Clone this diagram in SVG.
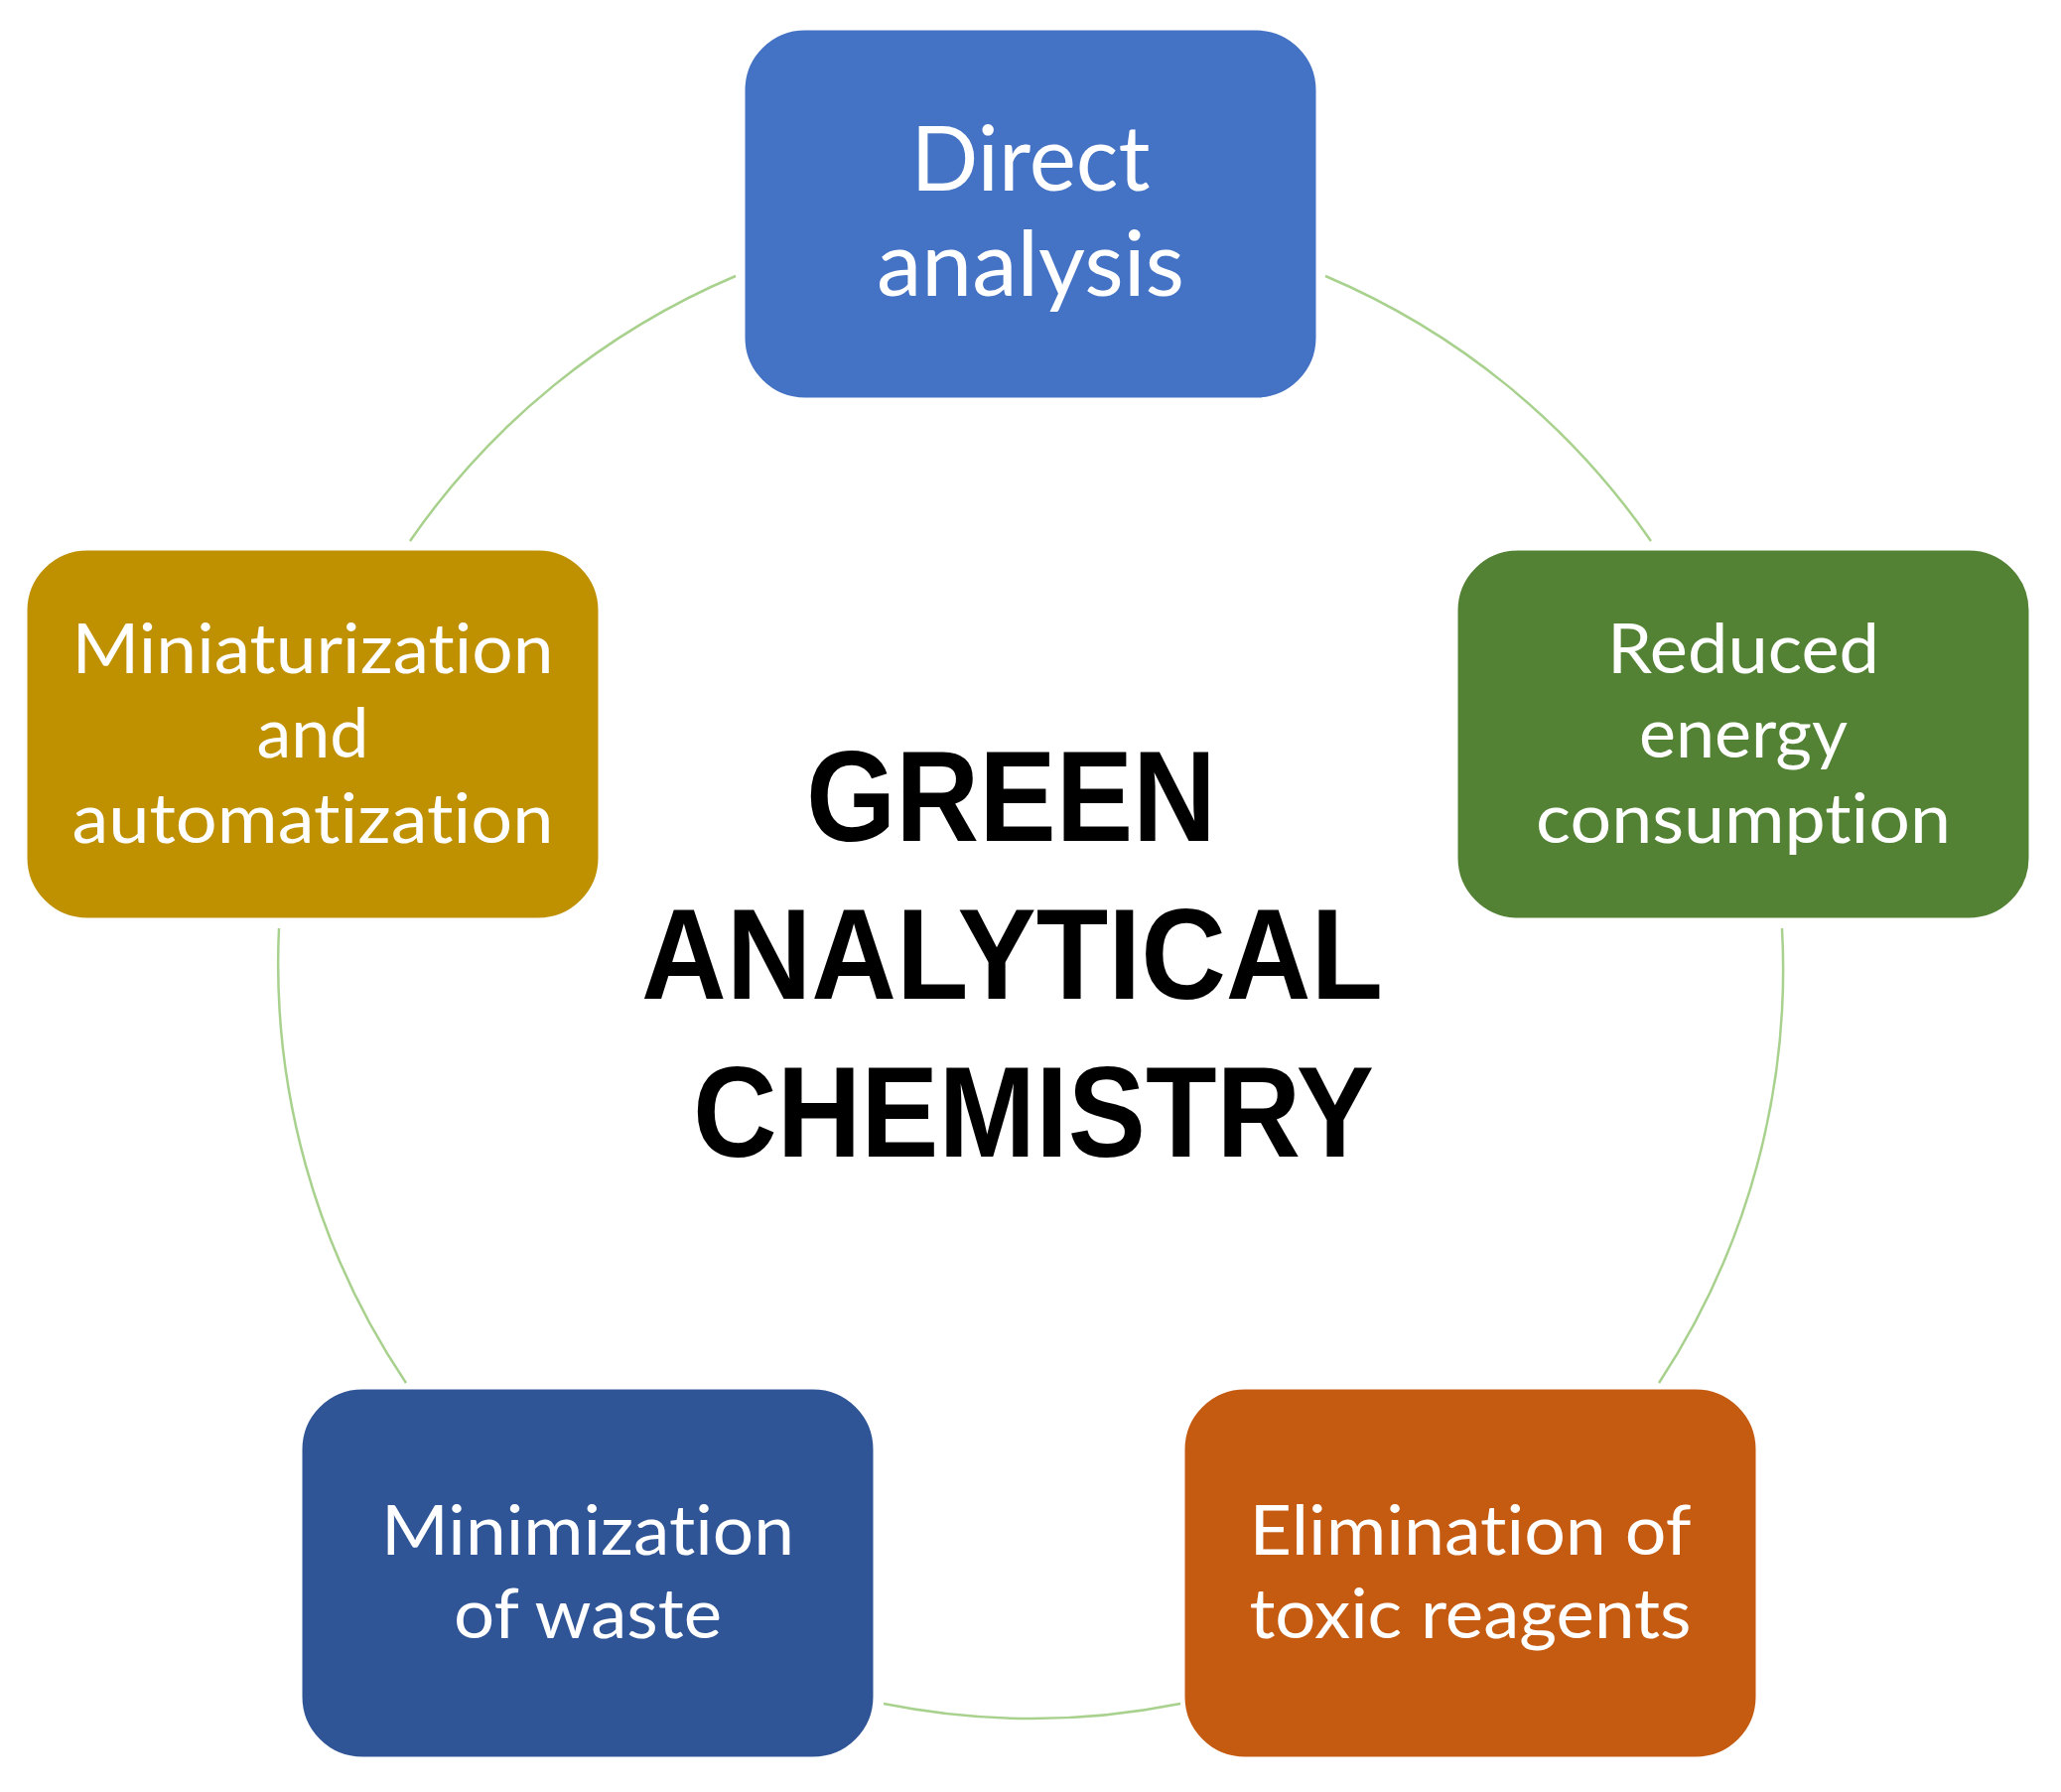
<svg xmlns="http://www.w3.org/2000/svg" width="2076" height="1805" viewBox="0 0 2076 1805">
<style>
.box{stroke:#ffffff;stroke-width:3}
.lbl{font-family:Lato,"Open Sans","Liberation Sans",sans-serif;fill:#ffffff;text-anchor:middle;font-size:70px;font-variant-ligatures:none;font-feature-settings:"liga" 0,"clig" 0}
.big{font-size:92px}
.title{font-family:"Liberation Sans",Arial,sans-serif;font-weight:bold;font-size:130px;fill:#000000}
.arc{fill:none;stroke:#A9D18E;stroke-width:2.5}
</style>
<rect width="2076" height="1805" fill="#ffffff"/>
<g id="connectors">
<path class="arc" d="M1335,278 A757,757 0 0 1 1663,545"/>
<path class="arc" d="M1795,935 A757,757 0 0 1 1671,1393"/>
<path class="arc" d="M1189,1716 A757,757 0 0 1 890,1716"/>
<path class="arc" d="M409,1393 A757,757 0 0 1 281,935"/>
<path class="arc" d="M413,545 A757,757 0 0 1 741,278"/>
</g>
<g id="node-direct">
<rect class="box" x="749" y="29" width="578" height="373" rx="62" fill="#4472C4"/>
<text class="lbl big" x="1038" y="192" textLength="241" lengthAdjust="spacingAndGlyphs">Direct</text>
<text class="lbl big" x="1038" y="298" textLength="310" lengthAdjust="spacingAndGlyphs">analysis</text>
</g>
<g id="node-energy">
<rect class="box" x="1467" y="553" width="578" height="373" rx="62" fill="#548235"/>
<text class="lbl" x="1756" y="678" textLength="274" lengthAdjust="spacingAndGlyphs">Reduced</text>
<text class="lbl" x="1756" y="763">energy</text>
<text class="lbl" x="1756" y="849" textLength="418" lengthAdjust="spacingAndGlyphs">consumption</text>
</g>
<g id="node-miniaturization">
<rect class="box" x="26" y="553" width="578" height="373" rx="62" fill="#BF9000"/>
<text class="lbl" x="315" y="678" textLength="485" lengthAdjust="spacingAndGlyphs">Miniaturization</text>
<text class="lbl" x="315" y="763">and</text>
<text class="lbl" x="315" y="849" textLength="485" lengthAdjust="spacingAndGlyphs">automatization</text>
</g>
<g id="node-waste">
<rect class="box" x="303" y="1398" width="578" height="373" rx="62" fill="#2F5597"/>
<text class="lbl" x="592" y="1566" textLength="416" lengthAdjust="spacingAndGlyphs">Minimization</text>
<text class="lbl" x="592" y="1650" textLength="270" lengthAdjust="spacingAndGlyphs">of waste</text>
</g>
<g id="node-toxic">
<rect class="box" x="1192" y="1398" width="578" height="373" rx="62" fill="#C55A11"/>
<text class="lbl" x="1481" y="1566" textLength="445" lengthAdjust="spacingAndGlyphs">Elimination of</text>
<text class="lbl" x="1481" y="1650" textLength="445" lengthAdjust="spacingAndGlyphs">toxic reagents</text>
</g>
<g id="title">
<text class="title" x="812" y="847" textLength="413" lengthAdjust="spacingAndGlyphs">GREEN</text>
<text class="title" x="646" y="1006" textLength="747" lengthAdjust="spacingAndGlyphs">ANALYTICAL</text>
<text class="title" x="698" y="1165" textLength="686" lengthAdjust="spacingAndGlyphs">CHEMISTRY</text>
</g>
</svg>
